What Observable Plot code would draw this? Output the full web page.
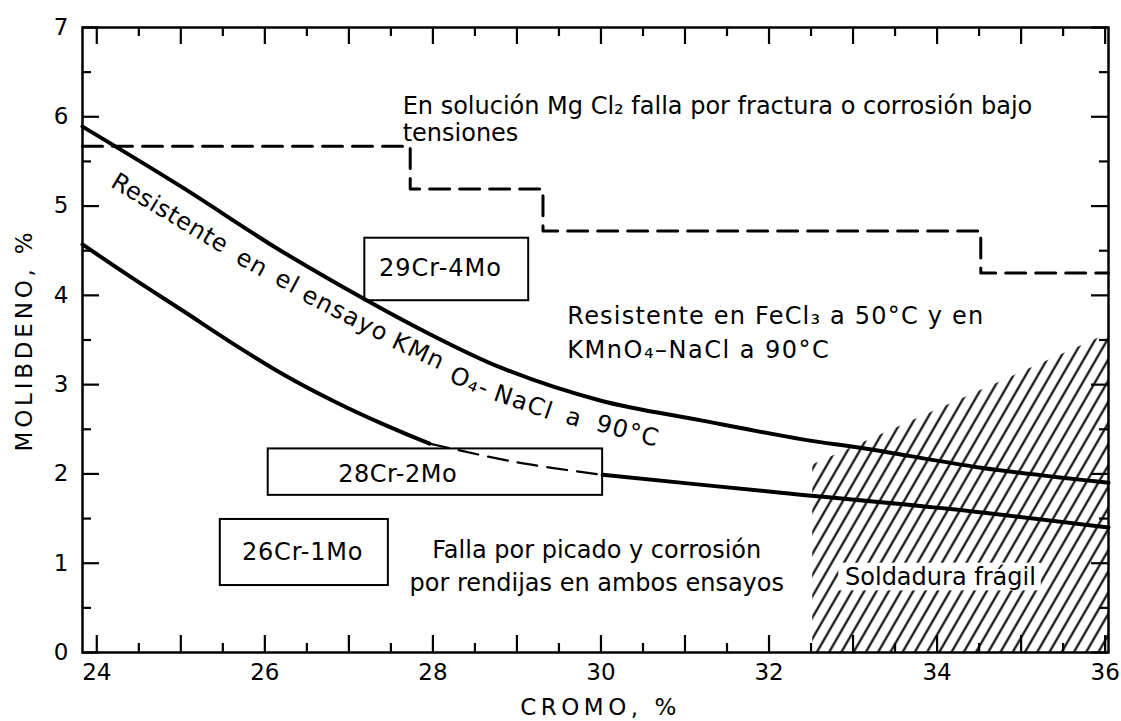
<!DOCTYPE html>
<html>
<head>
<meta charset="utf-8">
<script src="https://cdn.jsdelivr.net/npm/d3@7"></script>
<script src="https://cdn.jsdelivr.net/npm/@observablehq/plot@0.6"></script>
<style>
  html, body { margin: 0; padding: 0; background: #fff; }
  svg { display: block; }
</style>
</head>
<body>
<div id="chart"></div>
<script>
// ---------- axes ----------
const xDomain = [23.83, 36.04];
const yDomain = [0, 7];
const xTickLabels = [24, 26, 28, 30, 32, 34, 36];
const xMajorTicks = [24, 25, 26, 27, 28, 29, 30, 31, 32, 33, 34, 35, 36];
const xMinorTicks = [24.5, 25.5, 26.5, 27.5, 28.5, 29.5, 30.5, 31.5, 32.5, 33.5, 34.5, 35.5];
const yTickLabels = [0, 1, 2, 3, 4, 5, 6, 7];
const yMinorTicks = [0.5, 1.5, 2.5, 3.5, 4.5, 5.5, 6.5];
const xTitle = "CROMO, %";
const yTitle = "MOLIBDENO, %";

// ---------- curves ----------
// upper boundary (KMnO4-NaCl test)
const upperCr = [23.83, 25.0, 25.82, 26.19, 27.2, 27.85, 28.81, 30.0, 31.19, 32.38, 33.18, 34.52, 36.04];
const upperMo = [5.89, 5.22, 4.72, 4.50, 3.95, 3.62, 3.19, 2.82, 2.60, 2.39, 2.28, 2.07, 1.90];
// lower boundary, solid left part
const lowerACr = [23.83, 24.43, 25.02, 25.62, 26.21, 26.81, 27.40, 27.96];
const lowerAMo = [4.57, 4.19, 3.83, 3.46, 3.12, 2.82, 2.56, 2.34];
// lower boundary, dashed middle part
const lowerDCr = [27.96, 29.0, 30.02];
const lowerDMo = [2.34, 2.13, 1.99];
// lower boundary, solid right part
const lowerBCr = [30.02, 32.14, 34.13, 36.04];
const lowerBMo = [1.99, 1.79, 1.61, 1.40];
// MgCl2 stress-corrosion staircase (step-after)
const stairCr = [23.83, 27.73, 29.31, 34.52, 36.04];
const stairMo = [5.67, 5.19, 4.72, 4.25, 4.25];
// brittle weld hatched zone
const hatchCr = [32.52, 36.04];
const hatchTopMo = [2.10, 3.57];
const knockCr = [32.83, 35.24];
const knockMo = [0.69, 1.00];

// ---------- alloy boxes ----------
const boxLabels = ["29Cr-4Mo", "28Cr-2Mo", "26Cr-1Mo"];
const boxCr1 = [27.19, 26.04, 25.47];
const boxCr2 = [29.14, 30.02, 27.47];
const boxMo1 = [3.94, 1.76, 0.75];
const boxMo2 = [4.64, 2.28, 1.49];
const boxTextCr = [28.09, 27.58, 26.45];
const boxTextMo = [4.30, 2.00, 1.12];

// ---------- notes ----------
const noteText = [
  "En solución Mg Cl₂ falla por fractura o corrosión bajo",
  "tensiones",
  "Resistente en FeCl₃ a 50°C y en",
  "KMnO₄–NaCl a 90°C",
  "Falla por picado y corrosión",
  "por rendijas en ambos ensayos",
  "Soldadura frágil"
];
const noteCr = [27.64, 27.64, 29.60, 29.60, 29.95, 29.95, 34.04];
const noteMo = [6.12, 5.81, 3.76, 3.38, 1.14, 0.78, 0.84];
const noteAnchor = ["start", "start", "start", "start", "middle", "middle", "middle"];

// label running along the upper curve
const curveWords = ["Resistente", "en", "el", "ensayo", "KMn", "O₄-", "NaCl", "a", "90°C"];
const curveWordCr = [24.87, 25.85, 26.27, 26.96, 27.83, 28.44, 29.08, 29.68, 30.32];
const curveWordMo = [4.92, 4.36, 4.15, 3.79, 3.37, 3.03, 2.80, 2.63, 2.48];
const curveWordRot = [31, 29, 28, 27, 25, 23, 19, 17, 15];

// ---------- build ----------
const W = 1121, H = 721;
const mL = 82, mR = 13, mT = 27, mB = 69;
const pxPerX = (W - mL - mR) / (xDomain[1] - xDomain[0]);
const pxPerY = (H - mT - mB) / (yDomain[1] - yDomain[0]);
const FONT = "'DejaVu Sans', 'Liberation Sans', sans-serif";

const pts = (xs, ys) => xs.map((x, i) => ({x, y: ys[i]}));
const upper = pts(upperCr, upperMo);
const lowerA = pts(lowerACr, lowerAMo);
const lowerD = pts(lowerDCr, lowerDMo);
const lowerB = pts(lowerBCr, lowerBMo);
const stair = pts(stairCr, stairMo);
const hatch = pts(hatchCr, hatchTopMo);
const knock = [{x1: knockCr[0], x2: knockCr[1], y1: knockMo[0], y2: knockMo[1]}];
const boxes = boxLabels.map((t, i) => ({t, x1: boxCr1[i], x2: boxCr2[i], y1: boxMo1[i], y2: boxMo2[i], tx: boxTextCr[i], ty: boxTextMo[i]}));
const notes = noteText.map((t, i) => ({t, x: noteCr[i], y: noteMo[i], a: noteAnchor[i]}));
const words = curveWords.map((t, i) => ({t, x: curveWordCr[i], y: curveWordMo[i], r: curveWordRot[i]}));

const majLx = 17 / pxPerX, minLx = 9 / pxPerX;   // tick lengths in data units
const majLy = 17 / pxPerY, minLy = 9 / pxPerY;
const tk = (arr, v0, len) => arr.map(v => ({v, a: v0, b: v0 + len}));
const fmt = d => String(d);

const chart = Plot.plot({
  width: W, height: H,
  marginLeft: mL, marginRight: mR, marginTop: mT, marginBottom: mB,
  x: {domain: xDomain, axis: null},
  y: {domain: yDomain, axis: null},
  style: {fontFamily: FONT, fontSize: "24px", color: "black", background: "white"},
  marks: [
    // hatched brittle-weld zone
    Plot.areaY(hatch, {x: "x", y1: () => 0, y2: "y", fill: "url(#hatch)"}),
    Plot.rect(knock, {x1: "x1", x2: "x2", y1: "y1", y2: "y2", fill: "white"}),
    // staircase
    Plot.line(stair, {x: "x", y: "y", curve: "step-after", stroke: "black", strokeWidth: 3, strokeDasharray: "20,10"}),
    // curves
    Plot.line(upper, {x: "x", y: "y", curve: "catmull-rom", stroke: "black", strokeWidth: 4}),
    Plot.line(lowerA, {x: "x", y: "y", curve: "catmull-rom", stroke: "black", strokeWidth: 4}),
    Plot.line(lowerD, {x: "x", y: "y", curve: "catmull-rom", stroke: "black", strokeWidth: 2.2, strokeDasharray: "20,10"}),
    Plot.line(lowerB, {x: "x", y: "y", curve: "catmull-rom", stroke: "black", strokeWidth: 4}),
    // boxes
    Plot.rect(boxes, {x1: "x1", x2: "x2", y1: "y1", y2: "y2", fill: "none", stroke: "black", strokeWidth: 2}),
    Plot.text(boxes, {x: "tx", y: "ty", text: "t", fontSize: 24}),
    // notes
    Plot.text(notes.filter(d => d.a === "start"), {x: "x", y: "y", text: "t", textAnchor: "start", fontSize: 24}),
    Plot.text(notes.filter(d => d.a === "middle"), {x: "x", y: "y", text: "t", textAnchor: "middle", fontSize: 24}),
    Plot.text(words, {x: "x", y: "y", text: "t", rotate: "r", fontSize: 24}),
    // frame and inward ticks
    Plot.frame({stroke: "black", strokeWidth: 2.5}),
    Plot.ruleX(tk(xMajorTicks, yDomain[0], majLy), {x: "v", y1: "a", y2: "b", strokeWidth: 2.2}),
    Plot.ruleX(tk(xMinorTicks, yDomain[0], minLy), {x: "v", y1: "a", y2: "b", strokeWidth: 2.2}),
    Plot.ruleX(tk(xMajorTicks, yDomain[1], -majLy), {x: "v", y1: "a", y2: "b", strokeWidth: 2.2}),
    Plot.ruleX(tk(xMinorTicks, yDomain[1], -minLy), {x: "v", y1: "a", y2: "b", strokeWidth: 2.2}),
    Plot.ruleY(tk(yTickLabels, xDomain[0], majLx), {y: "v", x1: "a", x2: "b", strokeWidth: 2.2}),
    Plot.ruleY(tk(yMinorTicks, xDomain[0], minLx), {y: "v", x1: "a", x2: "b", strokeWidth: 2.2}),
    Plot.ruleY(tk(yTickLabels, xDomain[1], -majLx), {y: "v", x1: "a", x2: "b", strokeWidth: 2.2}),
    Plot.ruleY(tk(yMinorTicks, xDomain[1], -minLx), {y: "v", x1: "a", x2: "b", strokeWidth: 2.2}),
    // tick labels
    Plot.axisX(xTickLabels, {anchor: "bottom", tickSize: 0, tickPadding: 11, fontSize: 23, tickFormat: fmt, label: null}),
    Plot.axisY(yTickLabels, {anchor: "left", tickSize: 0, tickPadding: 14, fontSize: 23, tickFormat: fmt, label: null}),
    // axis titles
    Plot.text([xTitle], {x: () => (xDomain[0] + xDomain[1]) / 2, y: () => yDomain[0], dx: 5, dy: 55, text: d => d, fontSize: 23}),
    Plot.text([yTitle], {x: () => xDomain[0], y: () => 3.5, dx: -58, rotate: -90, text: d => d, fontSize: 23})
  ]
});

// hatch pattern definition
const svg = d3.select(chart);
const defs = svg.insert("defs", ":first-child");
const pat = defs.append("pattern")
  .attr("id", "hatch")
  .attr("patternUnits", "userSpaceOnUse")
  .attr("width", 10.6).attr("height", 10.6)
  .attr("patternTransform", "rotate(30)");
pat.append("line")
  .attr("x1", 5.3).attr("y1", -1).attr("x2", 5.3).attr("y2", 11.6)
  .attr("stroke", "black").attr("stroke-width", 2.1);

// letter spacing to imitate the wide hand lettering
const spacing = new Map([
  [xTitle, 4.5], [yTitle, 3.8],
  [noteText[2], 1.2], [noteText[3], 1.5],
  [boxLabels[0], 1], [boxLabels[1], 0.5], [boxLabels[2], 0.8],
  ...curveWords.map(w => [w, 1.3]),
  ["Resistente", 0.6]
]);
svg.selectAll("text").each(function () {
  const s = spacing.get(this.textContent);
  if (s != null) this.setAttribute("letter-spacing", s);
});

document.getElementById("chart").appendChild(chart);
</script>
</body>
</html>
